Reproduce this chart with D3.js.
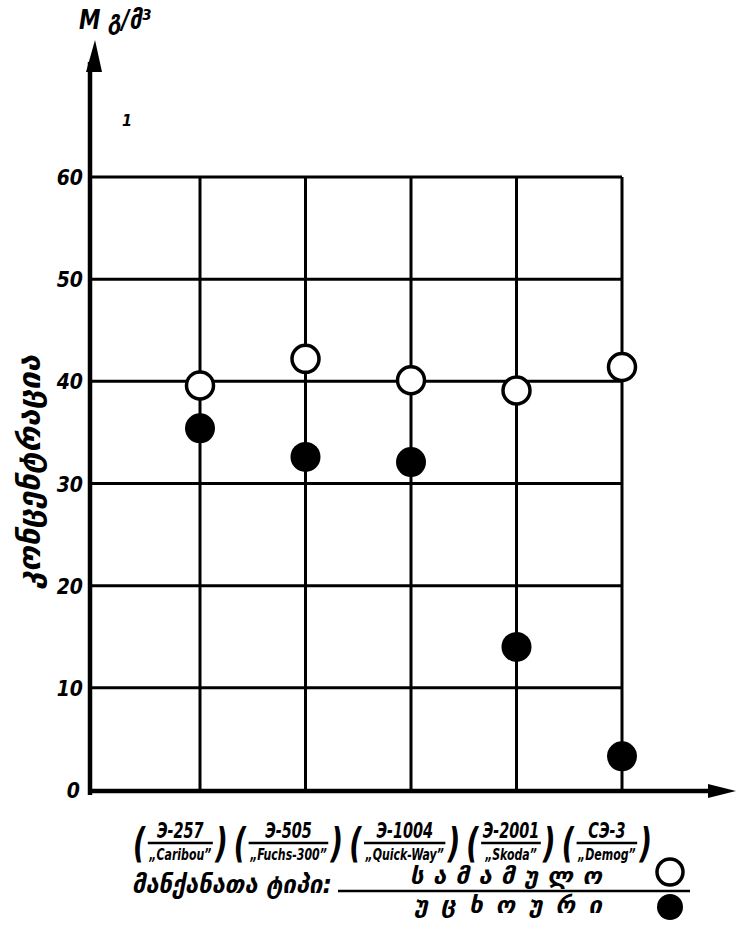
<!DOCTYPE html>
<html><head><meta charset="utf-8">
<script src="https://cdn.jsdelivr.net/npm/d3@7"></script>
<style>
body{margin:0;background:#fff}
text{font-family:"DejaVu Sans Condensed","DejaVu Sans",sans-serif;font-weight:bold;font-style:italic;fill:#000}
text.ka{font-family:"DejaVu Sans",sans-serif}
</style>
</head><body>
<svg id="chart" width="738" height="928"></svg>
<script>
// Machine types (model code over trade name)
const machineCodes = ["Э-257", "Э-505", "Э-1004", "Э-2001", "СЭ-3"];
const machineNames = ["„Caribou”", "„Fuchs-300”", "„Quick-Way”", "„Skoda”", "„Demog”"];
// Concentration, mg/m³
const domesticValues = [39.6, 42.2, 40.1, 39.1, 41.4];
const foreignValues = [35.4, 32.6, 32.1, 14.0, 3.3];
const yTicks = [0, 10, 20, 30, 40, 50, 60];

const svg = d3.select("#chart");
const x0 = 90, yBase = 791;
const x = d3.scalePoint().domain(machineCodes).range([200, 622]);
const y = d3.scaleLinear().domain([0, 60]).range([790, 177]);
const xRight = x(machineCodes[machineCodes.length - 1]);

// grid
const grid = svg.append("g").attr("stroke", "#000").attr("stroke-width", 3).attr("fill", "none");
grid.selectAll("line.h").data(yTicks.filter(d => d > 0)).join("line")
  .attr("x1", x0).attr("x2", xRight).attr("y1", d => y(d)).attr("y2", d => y(d));
grid.selectAll("line.v").data(machineCodes).join("line")
  .attr("x1", d => x(d)).attr("x2", d => x(d)).attr("y1", y(60)).attr("y2", yBase);

// axes with arrows
const axes = svg.append("g").attr("stroke", "#000").attr("stroke-width", 4.5);
axes.append("line").attr("x1", x0).attr("x2", x0).attr("y1", yBase + 4).attr("y2", 62);
axes.append("line").attr("x1", x0 - 2).attr("x2", 715).attr("y1", yBase).attr("y2", yBase);
svg.append("path").attr("d", `M${x0 + 5},40 L${x0 + 12},72 L${x0 - 4},72 Z`).attr("fill", "#000");
svg.append("path").attr("d", `M736,${yBase} L708,${yBase - 7} L708,${yBase + 7} Z`).attr("fill", "#000");

// y tick labels
svg.append("g").selectAll("text").data(yTicks).join("text")
  .attr("x", d => d === 0 ? 80 : 83).attr("y", d => y(d) + 8)
  .attr("text-anchor", "end").attr("font-size", 21).text(d => d);

// unit and axis title
svg.append("text").attr("class", "ka").attr("x", 79).attr("y", 29).attr("font-size", 27)
  .attr("textLength", 72).attr("lengthAdjust", "spacingAndGlyphs").text("M გ/მ³");
svg.append("text").attr("x", 122).attr("y", 126).attr("font-size", 16).text("1");
svg.append("text").attr("class", "ka").attr("transform", "translate(40,472) rotate(-90)")
  .attr("text-anchor", "middle").attr("font-size", 30).attr("textLength", 234)
  .attr("lengthAdjust", "spacingAndGlyphs").text("კონცენტრაცია");

// points
const pts = svg.append("g");
pts.selectAll("circle.dom").data(domesticValues).join("circle")
  .attr("cx", (d, i) => x(machineCodes[i])).attr("cy", d => y(d)).attr("r", 13.5)
  .attr("fill", "#fff").attr("stroke", "#000").attr("stroke-width", 3.5);
pts.selectAll("circle.for").data(foreignValues).join("circle")
  .attr("cx", (d, i) => x(machineCodes[i])).attr("cy", d => y(d)).attr("r", 15)
  .attr("fill", "#000");

// category labels: parenthesised fractions laid out in a row, then fitted to the row width
const rowStart = 133, rowEnd = 652;
const lab = svg.append("g");
const inner = lab.append("g");
let cursor = rowStart;
const gap = 8;
machineCodes.forEach((code, i) => {
  const g = inner.append("g");
  const top = g.append("text").attr("font-size", 21).attr("text-anchor", "middle").text(code);
  const bot = g.append("text").attr("font-size", 16).attr("text-anchor", "middle").text(machineNames[i]);
  const w = Math.max(top.node().getComputedTextLength(), bot.node().getComputedTextLength()) + 10;
  const lp = g.append("text").attr("font-size", 40).attr("font-style", "normal").attr("font-weight", "normal")
    .attr("x", cursor).attr("y", 857).text("(");
  const pw = lp.node().getComputedTextLength();
  const cx = cursor + pw + w / 2;
  top.attr("x", cx).attr("y", 838);
  bot.attr("x", cx).attr("y", 860);
  g.append("line").attr("x1", cx - w / 2 + 3).attr("x2", cx + w / 2 - 3).attr("y1", 843).attr("y2", 843)
    .attr("stroke", "#000").attr("stroke-width", 2.5);
  g.append("text").attr("font-size", 40).attr("font-style", "normal").attr("font-weight", "normal")
    .attr("x", cx + w / 2).attr("y", 857).text(")");
  cursor = cx + w / 2 + pw + gap;
});
const rowW = cursor - gap - rowStart;
const sx = (rowEnd - rowStart) / rowW;
inner.attr("transform", `translate(${rowStart},0) scale(${sx},1) translate(${-rowStart},0)`);

// legend
svg.append("text").attr("class", "ka").attr("x", 132).attr("y", 893).attr("font-size", 25)
  .attr("textLength", 200).attr("lengthAdjust", "spacingAndGlyphs").text("მანქანათა ტიპი:");
svg.append("text").attr("class", "ka").attr("x", 410).attr("y", 884).attr("font-size", 24)
  .attr("textLength", 192).attr("lengthAdjust", "spacing").text("სამამულო");
svg.append("line").attr("x1", 338).attr("x2", 690).attr("y1", 891).attr("y2", 891)
  .attr("stroke", "#000").attr("stroke-width", 2.5);
svg.append("text").attr("class", "ka").attr("x", 414).attr("y", 913).attr("font-size", 24)
  .attr("textLength", 188).attr("lengthAdjust", "spacing").text("უცხოური");
svg.append("circle").attr("cx", 670).attr("cy", 872).attr("r", 13)
  .attr("fill", "#fff").attr("stroke", "#000").attr("stroke-width", 3.5);
svg.append("circle").attr("cx", 670).attr("cy", 907).attr("r", 13).attr("fill", "#000");
</script>
</body></html>
